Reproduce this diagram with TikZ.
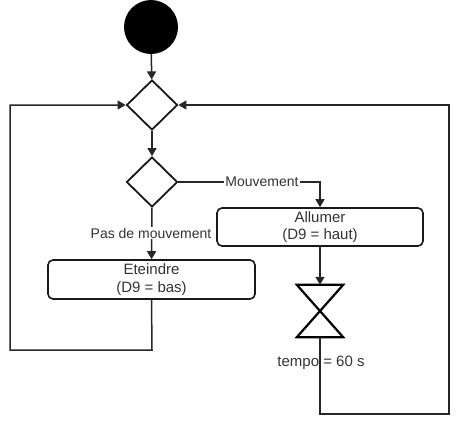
\documentclass[tikz,border=0pt]{standalone}
\usepackage{fontspec}
\setmainfont{Liberation Sans}
\usetikzlibrary{shapes.geometric,arrows.meta}
\begin{document}
\begin{tikzpicture}[x=1pt,y=-1pt,
  line/.style={line width=1.5pt,draw=black!85},
  arr/.style={line,-{Triangle[length=8pt,width=9pt]}},
  dec/.style={diamond,draw=black!90,line width=1.8pt,fill=white,minimum width=51pt,minimum height=50pt,inner sep=0pt},
  act/.style={rectangle,rounded corners=5pt,draw=black!90,line width=1.6pt,fill=white,align=center,font=\fontsize{15}{17.5}\selectfont,text=black!80,inner sep=0pt},
  lbl/.style={fill=white,inner sep=1pt,font=\fontsize{14}{16}\selectfont,text=black!80}]
\useasboundingbox (0,0) rectangle (474,440);
\node[circle,fill=black,minimum size=54pt,inner sep=0pt] (start) at (151,27) {};
\node[dec] (d1) at (152,105) {};
\node[dec] (d2) at (152,182) {};
\node[act,minimum width=206pt,minimum height=38pt] (allumer) at (320,227) {Allumer\\(D9 = haut)};
\node[act,minimum width=207pt,minimum height=39pt] (eteindre) at (151.5,279.5) {Eteindre\\(D9 = bas)};
\node[minimum width=46pt,minimum height=52pt,inner sep=0pt] (hg) at (320,311) {};
\draw[line width=2.2pt,line join=miter] (hg.north west) -- (hg.north east) -- (hg.south west) -- (hg.south east) -- cycle;
\node[font=\fontsize{15}{17}\selectfont,text=black!80,inner sep=0pt] (tempo) at (321,363) {tempo = 60 s};
\coordinate (lb) at (152,350);
\coordinate (ll) at (10,350);
\coordinate (lt) at (10,105);
\coordinate (rb) at (320,414);
\coordinate (rr) at (449,414);
\coordinate (rt) at (449,105);
\coordinate (mv) at (320,182);
\draw[arr] (start) -- (d1);
\draw[arr] (d1) -- (d2);
\draw[arr] (d2.east) -- (mv) -- (allumer.north);
\node[lbl] (mvl) at (262,182) {Mouvement};
\draw[arr] (d2.south) -- (eteindre.north);
\node[lbl] (pdm) at (151,233) {Pas de mouvement};
\draw[arr] (allumer.south) -- (hg.north);
\draw[arr] (eteindre.south) -- (lb) -- (ll) -- (lt) -- (d1.west);
\draw[arr] (hg.south) -- (rb) -- (rr) -- (rt) -- (d1.east);
\end{tikzpicture}
\end{document}
